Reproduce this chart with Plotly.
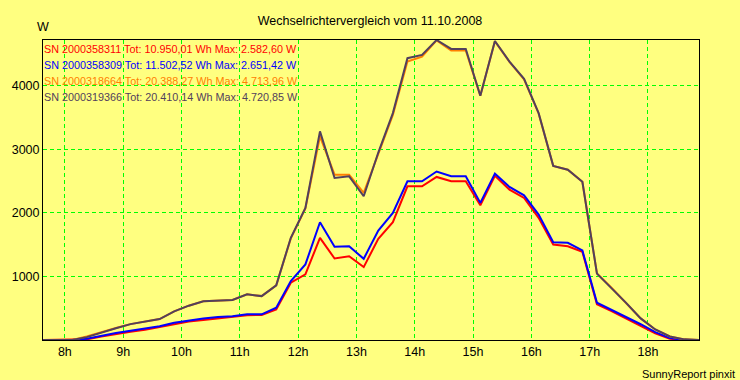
import pandas as pd
import plotly.graph_objects as go

# 15-minute samples (plotted at interval centres), 11.10.2008
times = pd.date_range("2008-10-11 07:37:30", periods=46, freq="15min")

hour_ticks = pd.date_range("2008-10-11 08:00", periods=11, freq="1h")
hour_labels = ["8h", "9h", "10h", "11h", "12h", "13h", "14h", "15h", "16h", "17h", "18h"]

y_ticks = [1000, 2000, 3000, 4000]

names = ["SN 2000358311", "SN 2000358309", "SN 2000318664", "SN 2000319366"]
totals = ["10.950,01", "11.502,52", "20.388,27", "20.410,14"]
maxima = ["2.582,60", "2.651,42", "4.713,96", "4.720,85"]
colors = ["#FF0000", "#0000FF", "#FF8000", "#52405C"]

p_311 = [0, 0, 0, 10, 55, 95, 130, 160, 200, 245, 290, 314, 340, 360, 390, 395,
         482, 901, 1032, 1608, 1283, 1319, 1147, 1593, 1853, 2419, 2419, 2566, 2497, 2497,
         2120, 2583, 2367, 2236, 1922, 1503, 1476, 1388, 561, 455, 340, 225, 105, 20, 0, 0]
p_309 = [0, 0, 0, 20, 70, 110, 145, 175, 215, 270, 310, 340, 360, 375, 404, 404,
         509, 927, 1189, 1853, 1467, 1476, 1278, 1723, 2001, 2497, 2497, 2651, 2576, 2576,
         2158, 2618, 2409, 2277, 1974, 1539, 1530, 1409, 587, 477, 360, 248, 125, 30, 0, 0]
p_664 = [0, 0, 0, 55, 125, 190, 250, 290, 330, 450, 540, 610, 620, 630, 718, 691,
         859, 1600, 2070, 3204, 2602, 2602, 2315, 2930, 3540, 4382, 4460, 4714, 4555, 4555,
         3843, 4700, 4375, 4100, 3565, 2740, 2680, 2490, 1045, 823, 585, 340, 165, 55, 10, 0]
p_366 = [0, 0, 0, 45, 120, 185, 250, 290, 330, 450, 540, 610, 620, 630, 718, 691,
         859, 1608, 2079, 3283, 2550, 2576, 2262, 2950, 3571, 4435, 4487, 4721, 4581, 4581,
         3843, 4705, 4382, 4110, 3570, 2740, 2680, 2490, 1045, 823, 585, 340, 165, 55, 10, 0]
series = [p_311, p_309, p_664, p_366]

fig = go.Figure()
for name, vals, col in zip(names, series, colors):
    fig.add_trace(go.Scatter(x=times, y=vals, mode="lines", name=name,
                             line=dict(color=col, width=2), showlegend=False))

# legend-like text block
for i, (name, tot, mx, col) in enumerate(zip(names, totals, maxima, colors)):
    fig.add_annotation(xref="paper", yref="paper", x=0.0, xshift=-1, y=1 - 0.03 - i * 0.0535,
                       xanchor="left", yanchor="middle", showarrow=False,
                       text=f"{name} Tot: {tot} Wh Max: {mx} W",
                       font=dict(family="Liberation Sans, Arial", size=10.8, color=col))

fig.add_annotation(xref="paper", yref="paper", x=0.0, y=1.043, xanchor="center", yanchor="middle",
                   showarrow=False, text="W",
                   font=dict(family="Liberation Sans, Arial", size=12.5, color="black"))
fig.add_annotation(xref="paper", yref="paper", x=1.058, y=-0.085, xanchor="right", yanchor="top",
                   showarrow=False, text="SunnyReport pinxit",
                   font=dict(family="Liberation Sans, Arial", size=11, color="black"))

fig.update_layout(
    width=740, height=380,
    margin=dict(l=40, r=41, t=40, b=40),
    paper_bgcolor="#FFFF80", plot_bgcolor="#FFFF80",
    title=dict(text="Wechselrichtervergleich vom 11.10.2008", x=0.5, xanchor="center",
               y=0.947, yanchor="middle",
               font=dict(family="Liberation Sans, Arial", size=12.5, color="black")),
    font=dict(family="Liberation Sans, Arial", size=12.5, color="black"),
)
fig.update_xaxes(type="date", range=[times[0], times[-1]],
                 tickmode="array", tickvals=hour_ticks, ticktext=hour_labels,
                 showgrid=True, gridcolor="#00FF00", griddash="4px,3px", gridwidth=1,
                 showline=True, linecolor="black", linewidth=1, mirror=True,
                 ticks="", zeroline=False)
fig.update_yaxes(range=[0, 4721], tickmode="array", tickvals=y_ticks,
                 ticktext=[str(v) for v in y_ticks],
                 showgrid=True, gridcolor="#00FF00", griddash="4px,3px", gridwidth=1,
                 showline=True, linecolor="black", linewidth=1, mirror=True,
                 ticks="", zeroline=False)

fig.write_html("out.html", config={"displayModeBar": False},
               post_script="document.body.style.margin='0';document.body.style.background='#FFFF80';")
